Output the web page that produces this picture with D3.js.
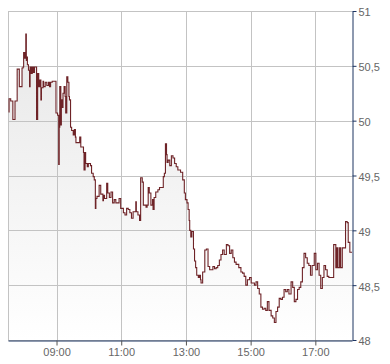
<!DOCTYPE html>
<html><head><meta charset="utf-8">
<script src="https://cdn.jsdelivr.net/npm/d3@7"></script>
<style>html,body{margin:0;padding:0;background:#fff;}svg{display:block;}</style>
</head><body>
<script>
const times = ["07:31","07:32","07:35","07:39","07:43","07:47","07:51","07:56","07:58","07:59","08:01","08:03","08:04","08:05","08:06","08:08","08:10","08:11","08:13","08:15","08:17","08:19","08:23","08:25","08:27","08:29","08:31","08:32","08:35","08:36","08:39","08:42","08:45","08:47","08:49","08:52","08:59","09:02","09:04","09:05","09:06","09:08","09:09","09:11","09:12","09:14","09:16","09:17","09:19","09:21","09:23","09:24","09:26","09:28","09:31","09:33","09:35","09:36","09:43","09:45","09:50","09:51","09:53","09:54","09:57","09:59","10:03","10:05","10:08","10:10","10:12","10:13","10:15","10:19","10:22","10:26","10:27","10:29","10:33","10:35","10:38","10:41","10:44","10:47","10:50","10:56","10:59","11:04","11:07","11:10","11:13","11:16","11:19","11:22","11:27","11:28","11:31","11:34","11:36","11:39","11:41","11:46","11:48","11:50","11:52","11:55","11:58","11:59","12:01","12:04","12:08","12:11","12:18","12:20","12:22","12:24","12:25","12:27","12:30","12:33","12:36","12:39","12:42","12:45","12:50","12:54","12:57","12:59","13:02","13:04","13:06","13:07","13:09","13:11","13:14","13:16","13:18","13:20","13:23","13:25","13:27","13:28","13:31","13:35","13:38","13:41","13:44","13:50","13:53","13:56","13:59","14:02","14:05","14:08","14:11","14:15","14:18","14:21","14:24","14:27","14:30","14:33","14:38","14:42","14:45","14:48","14:51","14:54","14:58","15:01","15:07","15:10","15:13","15:16","15:19","15:22","15:25","15:28","15:31","15:34","15:38","15:41","15:44","15:47","15:50","15:53","15:56","15:59","16:02","16:05","16:08","16:11","16:15","16:18","16:21","16:24","16:27","16:30","16:33","16:36","16:39","16:42","16:45","16:48","16:51","16:54","16:58","17:01","17:04","17:07","17:10","17:13","17:16","17:19","17:22","17:25","17:34","17:38","17:40","17:42","17:45","17:47","17:50","17:56","17:59","18:01","18:04"];
const prices = [50.08,50.20,50.18,50.01,50.18,50.47,50.31,50.48,50.49,50.62,50.57,50.79,50.55,50.58,50.51,50.46,50.31,50.49,50.43,50.49,50.44,50.49,50.01,50.43,50.31,50.37,50.19,50.30,50.36,50.31,50.35,50.32,50.35,50.31,50.35,50.36,50.07,50.05,49.60,49.94,50.31,49.96,50.19,50.12,50.25,50.31,50.22,50.07,50.40,50.35,50.22,50.19,49.94,49.91,49.87,49.92,49.85,49.80,49.85,49.76,49.71,49.55,49.71,49.61,49.58,49.61,49.59,49.52,49.49,49.46,49.20,49.29,49.31,49.41,49.33,49.27,49.32,49.29,49.43,49.34,49.30,49.35,49.25,49.28,49.25,49.29,49.20,49.16,49.14,49.20,49.19,49.16,49.11,49.17,49.26,49.17,49.14,49.09,49.48,49.44,49.23,49.21,49.23,49.39,49.34,49.23,49.28,49.19,49.30,49.35,49.37,49.39,49.49,49.52,49.79,49.69,49.62,49.64,49.59,49.68,49.66,49.61,49.58,49.55,49.53,49.46,49.34,49.28,49.25,49.19,49.09,49.00,48.94,48.99,48.83,48.72,48.66,48.59,48.57,48.59,48.55,48.52,48.62,48.82,48.83,48.67,48.64,48.67,48.65,48.66,48.68,48.73,48.78,48.82,48.78,48.87,48.86,48.79,48.82,48.75,48.71,48.69,48.66,48.62,48.61,48.58,48.50,48.55,48.57,48.52,48.50,48.53,48.47,48.42,48.30,48.28,48.29,48.27,48.35,48.27,48.22,48.20,48.16,48.26,48.30,48.38,48.37,48.39,48.46,48.44,48.46,48.42,48.53,48.48,48.35,48.37,48.46,48.48,48.53,48.66,48.79,48.75,48.70,48.68,48.59,48.68,48.79,48.64,48.70,48.59,48.47,48.57,48.68,48.64,48.58,48.57,48.87,48.66,48.84,48.66,48.84,48.66,48.84,49.08,49.07,48.89,48.80];
const xTickLabels = ["09:00","11:00","13:00","15:00","17:00"];
const yTickValues = [48,48.5,49,49.5,50,50.5,51];
const yTickLabels = ["48","48,5","49","49,5","50","50,5","51"];
const timeDomain = ["07:30","18:08"];

const W = 390, H = 364;
const L = 8, R = 352, T = 11, B = 340;
const parse = d3.timeParse("%H:%M");
const data = times.map((t,i)=>({t:parse(t), v:prices[i]}));

const svg = d3.select("body").append("svg").attr("width",W).attr("height",H);
const x = d3.scaleTime().domain(timeDomain.map(parse)).range([L,R]);
const y = d3.scaleLinear().domain([48,51]).range([B,T]);

const defs = svg.append("defs");
const grad = defs.append("linearGradient").attr("id","fillg")
  .attr("gradientUnits","userSpaceOnUse").attr("x1",0).attr("y1",T).attr("x2",0).attr("y2",B);
grad.append("stop").attr("offset","0%").attr("stop-color","#e6e6e6");
grad.append("stop").attr("offset","100%").attr("stop-color","#ffffff");

const lastT = x.invert(R);
const ext = data.concat([{t:lastT, v:data[data.length-1].v}]);

svg.append("path").datum(ext)
  .attr("fill","url(#fillg)")
  .attr("d", d3.area().curve(d3.curveStepAfter).x(d=>x(d.t)).y0(B).y1(d=>y(d.v)));

// grid
const xTicks = xTickLabels.map(parse);
const grid = svg.append("g").attr("stroke","#c3c3c3").attr("stroke-width",1).attr("shape-rendering","crispEdges");
grid.selectAll(".vx").data(xTicks).join("line")
  .attr("x1",d=>Math.round(x(d))+0.5).attr("x2",d=>Math.round(x(d))+0.5).attr("y1",T).attr("y2",B);
grid.selectAll(".hy").data(yTickValues).join("line")
  .attr("x1",L).attr("x2",R).attr("y1",d=>Math.round(y(d))+0.5).attr("y2",d=>Math.round(y(d))+0.5);
grid.append("line").attr("x1",L+0.5).attr("x2",L+0.5).attr("y1",T).attr("y2",B);

// price line
svg.append("path").datum(ext)
  .attr("fill","none").attr("stroke","#6e2327").attr("stroke-width",1.1)
  .attr("d", d3.line().curve(d3.curveStepAfter).x(d=>x(d.t)).y(d=>y(d.v)));

// axes
const xAxis = d3.axisBottom(x).tickValues(xTicks).tickFormat(d3.timeFormat("%H:%M")).tickSizeInner(5).tickSizeOuter(0).tickPadding(3);
const gx = svg.append("g").attr("transform",`translate(0,${B+0.5})`).call(xAxis);
gx.select(".domain").attr("stroke","#1d3461");
gx.selectAll(".tick line").attr("stroke","#555");
gx.selectAll("text").attr("fill","#666").style("font-family","'Liberation Sans', Arial, sans-serif").style("font-size","11px");

const yAxis = d3.axisRight(y).tickValues(yTickValues).tickFormat((d,i)=>yTickLabels[i]).tickSizeInner(4).tickSizeOuter(0).tickPadding(2);
const gy = svg.append("g").attr("transform",`translate(${R+0.5},0)`).call(yAxis);
gy.select(".domain").attr("stroke","#1d3461");
gy.selectAll(".tick line").attr("stroke","#1d3461");
gy.selectAll("text").attr("fill","#666").attr("dy","0.45em").style("font-family","'Liberation Sans', Arial, sans-serif").style("font-size","11px");
</script>
</body></html>
